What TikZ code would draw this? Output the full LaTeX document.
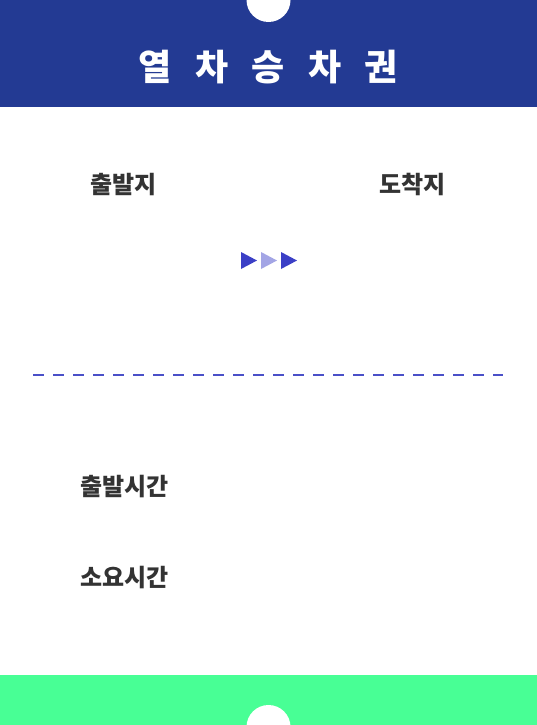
\documentclass[tikz,border=0pt]{standalone}
\usepackage{fontspec}
\setmainfont{Noto Sans CJK KR}
\usepackage{tikz}

\definecolor{ticketblue}{HTML}{233A93}
\definecolor{ticketgreen}{HTML}{48FF95}
\definecolor{dashblue}{HTML}{4A50C8}
\definecolor{tridark}{HTML}{3B3FC6}
\definecolor{trilight}{HTML}{A3A5E5}
\definecolor{labelgray}{HTML}{333333}

\tikzset{
  titlechar/.style={text=white, font=\fontsize{36}{36}\selectfont\bfseries, inner sep=0pt},
  fieldlabel/.style={text=labelgray, font=\fontsize{24}{24}\selectfont\bfseries, inner sep=0pt}
}

\begin{document}
\begin{tikzpicture}[x=1pt,y=-1pt]

\useasboundingbox (0,0) rectangle (537,725) ;
\fill[white] (0,0) rectangle (537,725) ;

% header and footer bands
\fill[ticketblue] (0,0) rectangle (537,107) ;
\fill[ticketgreen] (0,675) rectangle (537,725) ;
\fill[white] (268.5,0) circle (22) ;
\fill[white] (268.5,727) circle (22) ;

\foreach \ch [count=\i] in {열,차,승,차,권}
  \node[titlechar] (title\i) at (99+56.5*\i, 67) {\ch} ;

\node[fieldlabel] (from) at (123.5,184.5) {출발지} ;
\node[fieldlabel] (to) at (412.5,184.5) {도착지} ;

\fill[tridark]  (241,252) -- (257,260.5) -- (241,269) -- cycle ;
\fill[trilight] (261,252) -- (277,260.5) -- (261,269) -- cycle ;
\fill[tridark]  (281,252) -- (297,260.5) -- (281,269) -- cycle ;

\draw[dashblue, line width=2, dash pattern=on 10.7 off 9.3] (33.3,375) -- (503,375) ;

\node[fieldlabel] (departtime) at (124.5,486.5) {출발시간} ;
\node[fieldlabel] (traveltime) at (124.5,577.5) {소요시간} ;

\end{tikzpicture}
\end{document}
